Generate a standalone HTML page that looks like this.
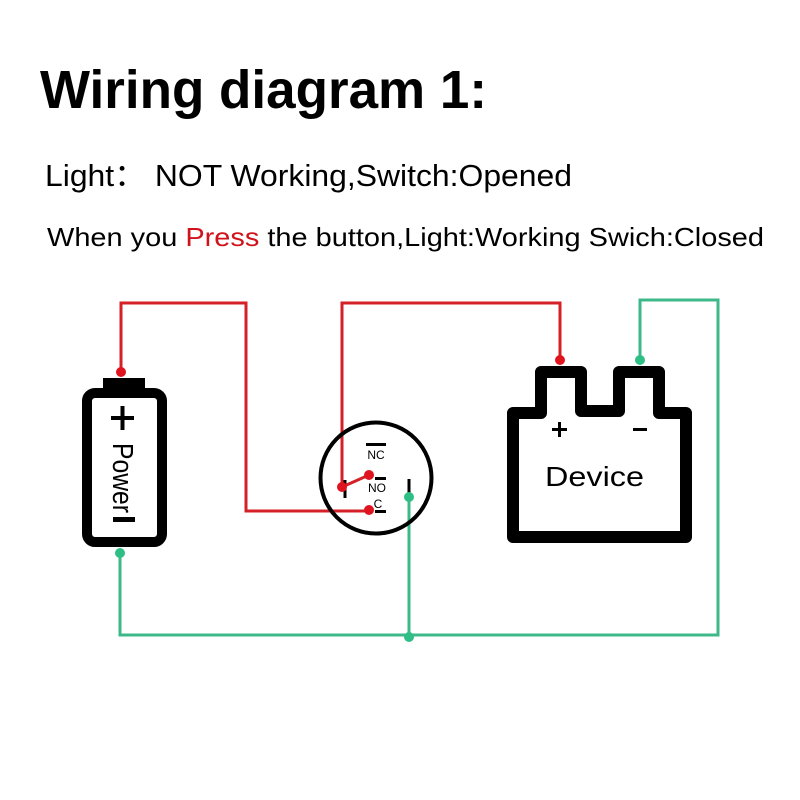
<!DOCTYPE html>
<html>
<head>
<meta charset="utf-8">
<style>
html,body{margin:0;padding:0;background:#fff;}
svg{display:block;}
text{font-family:"Liberation Sans","Noto Sans CJK SC",sans-serif;}
</style>
</head>
<body>
<svg width="800" height="800" viewBox="0 0 800 800" xmlns="http://www.w3.org/2000/svg">
<rect width="800" height="800" fill="#fff"/>
<!-- Titles -->
<text x="40" y="108" font-size="54" font-weight="bold" fill="#000" textLength="447" lengthAdjust="spacingAndGlyphs">Wiring diagram 1:</text>
<text x="45" y="186" font-size="31" fill="#000" textLength="527" lengthAdjust="spacingAndGlyphs">Light： NOT Working,Switch:Opened</text>
<text x="47" y="246" font-size="26" fill="#000" textLength="717" lengthAdjust="spacingAndGlyphs">When you <tspan fill="#d0121b">Press</tspan> the button,Light:Working Swich:Closed</text>

<!-- Wires -->
<g fill="none" stroke-width="3" stroke-linejoin="miter">
  <path d="M121,372 V303 H246 V511 H369" stroke="#d42127"/>
  <path d="M342,487 V303 H560 V360" stroke="#d42127"/>
  <path d="M120,553 V635 H718 V300 H640 V360" stroke="#3cb88a"/>
  <path d="M409,497 V637" stroke="#3cb88a"/>
</g>

<!-- Battery -->
<rect x="103" y="378" width="42" height="16" fill="#000"/>
<rect x="87" y="393" width="75" height="149" rx="8" ry="8" fill="#fff" stroke="#000" stroke-width="10"/>
<rect x="111" y="416" width="23" height="4" fill="#000"/>
<rect x="120.5" y="406" width="4" height="24" fill="#000"/>
<text transform="translate(113,478) rotate(90)" text-anchor="middle" font-size="29" fill="#000" textLength="70" lengthAdjust="spacingAndGlyphs">Power</text>
<rect x="113" y="517" width="22" height="5" fill="#000"/>

<!-- Switch -->
<circle cx="376" cy="478" r="55.5" fill="none" stroke="#000" stroke-width="4"/>
<rect x="366" y="443" width="20" height="3" fill="#000"/>
<text x="376" y="459" font-size="12" text-anchor="middle" fill="#000">NC</text>
<rect x="375" y="477" width="11" height="3" fill="#000"/>
<text x="377" y="492" font-size="12" text-anchor="middle" fill="#000">NO</text>
<text x="378" y="508" font-size="12" text-anchor="middle" fill="#000">C</text>
<rect x="375" y="510" width="11" height="3" fill="#000"/>
<rect x="343.5" y="480" width="3" height="18" fill="#000"/>
<rect x="407.5" y="479" width="3" height="14" fill="#000"/>
<path d="M342,487 L369,475" stroke="#d42127" stroke-width="3" fill="none"/>

<!-- Device -->
<path d="M513,537 V413 H541 V372 H581 V411 H619 V372 H659 V413 H686 V537 Z" fill="#fff" stroke="#000" stroke-width="12" stroke-linejoin="round"/>
<rect x="552" y="428" width="15" height="3" fill="#000"/>
<rect x="558" y="422" width="3" height="15" fill="#000"/>
<rect x="633" y="428" width="14" height="3" fill="#000"/>
<text x="545" y="486" font-size="28" fill="#000" textLength="99" lengthAdjust="spacingAndGlyphs">Device</text>

<!-- Dots -->
<g fill="#e0141e">
  <circle cx="121" cy="372" r="5"/>
  <circle cx="560" cy="360" r="5"/>
  <circle cx="342" cy="487" r="5"/>
  <circle cx="369" cy="475" r="5"/>
  <circle cx="369" cy="510" r="5"/>
</g>
<g fill="#2fbf86">
  <circle cx="120" cy="553" r="5"/>
  <circle cx="640" cy="360" r="5"/>
  <circle cx="409" cy="497" r="5"/>
  <circle cx="409" cy="637" r="5"/>
</g>
</svg>
</body>
</html>
